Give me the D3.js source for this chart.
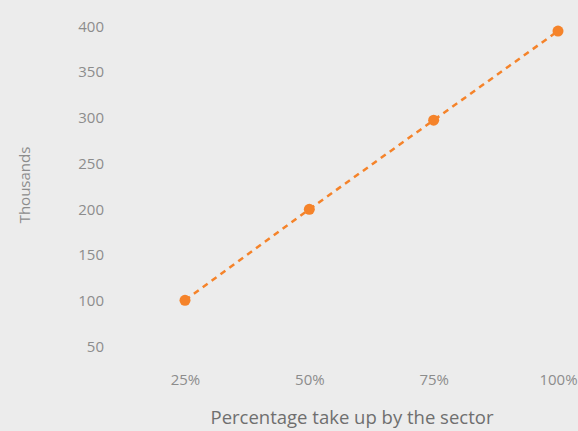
<!DOCTYPE html>
<html><head><meta charset="utf-8">
<script src="https://cdn.jsdelivr.net/npm/d3@7"></script>
<style>
html,body{margin:0;padding:0;background:#ececec;}
svg{display:block;}
svg text{font-family:"Open Sans",sans-serif;}
</style></head>
<body>
<svg id="c" width="578" height="431"></svg>
<script>
const categories = ["25%", "50%", "75%", "100%"];
const values = [100, 199.5, 297, 394.5];
const yTicks = [50, 100, 150, 200, 250, 300, 350, 400];
const xTitle = "Percentage take up by the sector";
const yTitle = "Thousands";

const svg = d3.select("#c");
const W = 578, H = 431;
svg.append("rect").attr("width", W).attr("height", H).attr("fill", "#ececec");

const x = d3.scalePoint().domain(categories).range([185, 558]);
const y = d3.scaleLinear().domain([50, 400]).range([346, 26]);

const yAxis = svg.append("g").attr("transform", "translate(104,0)")
  .call(d3.axisLeft(y).tickValues(yTicks).tickSize(0).tickPadding(0));
yAxis.attr("font-family", null).attr("font-size", null);
yAxis.select(".domain").remove();
yAxis.selectAll("text").attr("fill", "#8c8c8c").style("font-size", "15px").attr("dy", "0.35em");

const xAxis = svg.append("g").attr("transform", "translate(0,372)")
  .call(d3.axisBottom(x).tickSize(0).tickPadding(0));
xAxis.attr("font-family", null).attr("font-size", null);
xAxis.select(".domain").remove();
xAxis.selectAll("text").attr("fill", "#8c8c8c").style("font-size", "15px").attr("dy", "0.85em");

const data = categories.map((c, i) => ({c, v: values[i]}));
svg.append("path").datum(data)
  .attr("fill", "none").attr("stroke", "#f5832a").attr("stroke-width", 2.5)
  .attr("stroke-dasharray", "6,5")
  .attr("d", d3.line().x(d => x(d.c)).y(d => y(d.v)));
svg.selectAll("circle.pt").data(data).join("circle")
  .attr("cx", d => x(d.c)).attr("cy", d => y(d.v)).attr("r", 5.5)
  .attr("fill", "#f5832a");

svg.append("text").attr("x", 352).attr("y", 424).attr("text-anchor", "middle")
  .attr("fill", "#6f6f6f").style("font-size", "18.5px").text(xTitle);
svg.append("text").attr("transform", "translate(30,185) rotate(-90)")
  .attr("text-anchor", "middle").attr("fill", "#8c8c8c").style("font-size", "15px").text(yTitle);
</script>
</body></html>
